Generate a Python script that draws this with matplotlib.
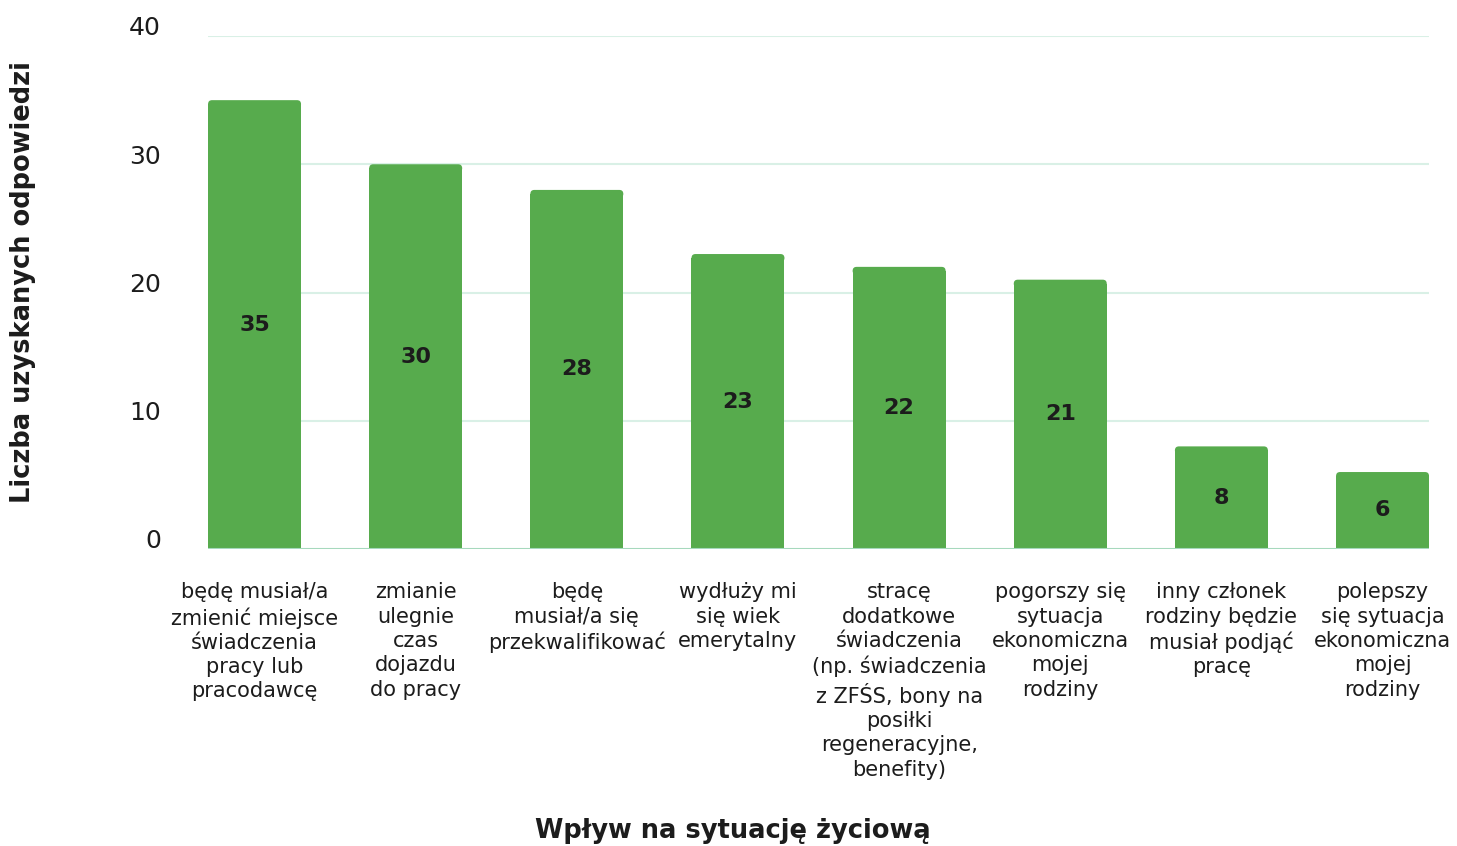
import matplotlib
matplotlib.use("Agg")
import matplotlib.pyplot as plt
import matplotlib.transforms as mtransforms
from matplotlib.patches import FancyBboxPatch

# odpowiedzi ankietowanych
categories = [
    "będę musiał/a\nzmienić miejsce\nświadczenia\npracy lub\npracodawcę",
    "zmianie\nulegnie\nczas\ndojazdu\ndo pracy",
    "będę\nmusiał/a się\nprzekwalifikować",
    "wydłuży mi\nsię wiek\nemerytalny",
    "stracę\ndodatkowe\nświadczenia\n(np. świadczenia\nz ZFŚS, bony na\nposiłki\nregeneracyjne,\nbenefity)",
    "pogorszy się\nsytuacja\nekonomiczna\nmojej\nrodziny",
    "inny członek\nrodziny będzie\nmusiał podjąć\npracę",
    "polepszy\nsię sytuacja\nekonomiczna\nmojej\nrodziny",
]
counts = [35, 30, 28, 23, 22, 21, 8, 6]
y_ticks = [0, 10, 20, 30, 40]

bar_color = "#57ab4d"
text_color = "#1c1c1c"
grid_color = "#d9f0e6"
base_color = "#a6d9bd"

fig = plt.figure(figsize=(14.57, 8.46), dpi=100)
ax = fig.add_axes([0.1428, 0.3511, 0.838, 0.6063])

width = 0.577
x = list(range(len(counts)))
bars = ax.bar(x, counts, width=width, color=bar_color, zorder=2)

ax.set_xlim(-width / 2, len(counts) - 1 + width / 2)
ax.set_ylim(0, 40)

# zaokrąglone górne rogi słupków
fig.canvas.draw()
bbox = ax.get_window_extent()
x_per_px = (ax.get_xlim()[1] - ax.get_xlim()[0]) / bbox.width
y_per_px = (ax.get_ylim()[1] - ax.get_ylim()[0]) / bbox.height
r = 4 * x_per_px
rr = 4 * y_per_px
aspect = y_per_px / x_per_px
for b in bars:
    h = b.get_height()
    b.set_height(h - rr)
    top = FancyBboxPatch((b.get_x(), h - 2 * rr), b.get_width(), 2 * rr,
                         boxstyle=f"round,pad=0,rounding_size={r}",
                         mutation_aspect=aspect, facecolor=bar_color,
                         edgecolor="none", zorder=2)
    ax.add_patch(top)

for xi, v in zip(x, counts):
    ax.text(xi, v / 2, str(v), ha="center", va="center", fontsize=16,
            fontweight="bold", color=text_color, zorder=3)

for t in y_ticks[1:]:
    ax.axhline(t, color=grid_color, lw=1.5, zorder=1)
ax.axhline(0, color=base_color, lw=1.5, zorder=3)

for s in ax.spines.values():
    s.set_visible(False)

ax.set_yticks(y_ticks)
ax.set_yticklabels([str(t) for t in y_ticks], fontsize=18, color=text_color,
                   va="center")
ax.tick_params(axis="y", length=0, pad=34)
shift = mtransforms.ScaledTranslation(0, 5.5 / 72, fig.dpi_scale_trans)
for lbl in ax.get_yticklabels():
    lbl.set_transform(lbl.get_transform() + shift)

ax.set_xticks(x)
ax.set_xticklabels(categories, fontsize=15, color=text_color,
                   linespacing=1.27)
ax.tick_params(axis="x", length=0, pad=24)

fig.text(0.016, 0.667, "Liczba uzyskanych odpowiedzi", rotation=90,
         ha="center", va="center", fontsize=18.5, fontweight="bold",
         color=text_color)
fig.text(0.503, 0.018, "Wpływ na sytuację życiową", ha="center",
         va="center", fontsize=18.5, fontweight="bold", color=text_color)

fig.savefig("out.png", dpi=100)
